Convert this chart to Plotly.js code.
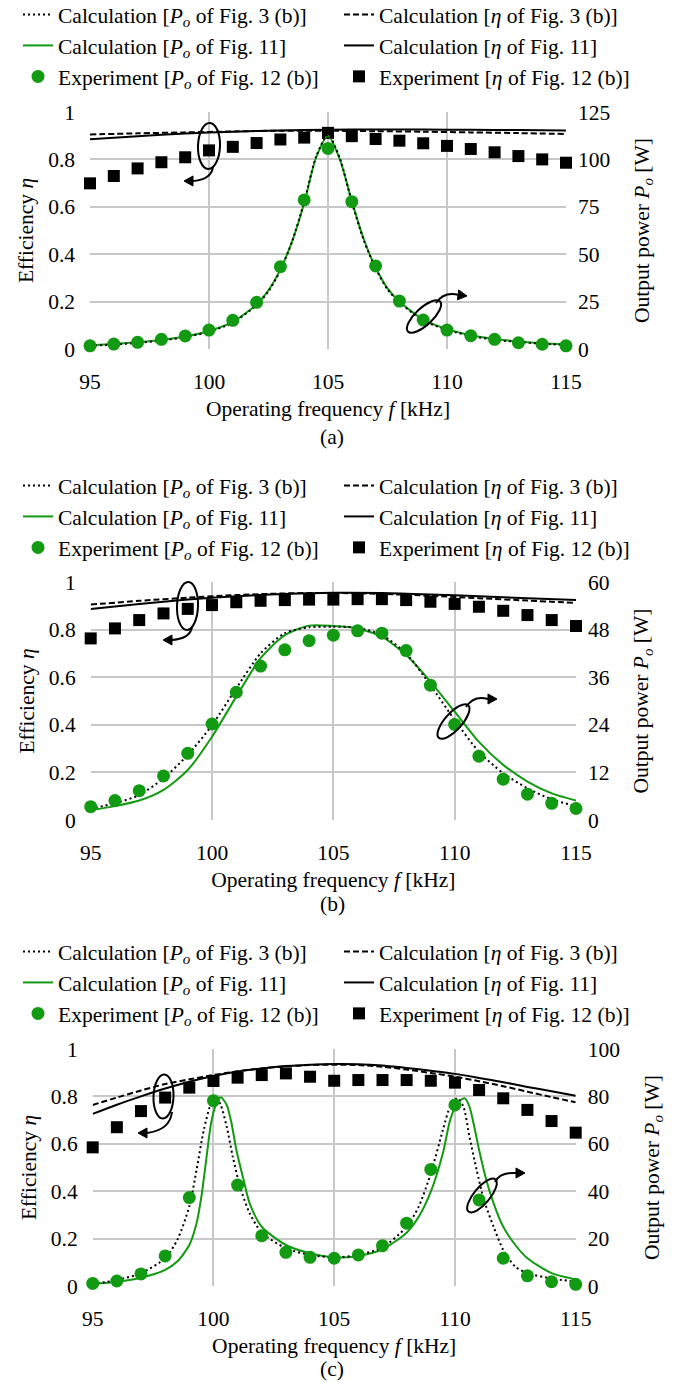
<!DOCTYPE html>
<html><head><meta charset="utf-8">
<script src="https://cdn.plot.ly/plotly-3.0.1.min.js"></script>
<style>html,body{margin:0;padding:0;background:#fff;}#chart{width:679px;height:1382px;}</style>
</head><body><div id="chart"></div>
<script>
// ---------------- data ----------------
const FREQ_EXP = [95,96,97,98,99,100,101,102,103,104,105,106,107,108,109,110,111,112,113,114,115];
const FREQ_ETA_AB = [95,97,99,101,103,105,107,109,111,113,115];

// panel (a)
const A_PO_EXP  = [1.7,2.6,3.5,5.1,6.9,10.0,15.1,24.6,43.4,78.6,105.8,77.7,43.8,25.3,15.3,10.0,7.0,5.1,3.3,2.5,1.7];
const A_ETA_EXP = [0.699,0.730,0.762,0.788,0.809,0.838,0.853,0.869,0.884,0.892,0.912,0.898,0.886,0.879,0.868,0.857,0.844,0.830,0.814,0.800,0.786];
const A_FREQ_PO = [95,96,97,98,99,100,101,102,102.5,103,103.5,104,104.5,105,105.5,106,106.5,107,107.5,108,109,110,111,112,113,114,115];
const A_PO_FIG11 = [2.0,2.7,3.5,4.8,6.6,9.5,14.3,23.5,31,42,57,77,101,112.5,100,78,58,43,32,25,15.5,10.5,7.3,5.3,4.0,3.0,2.4];
const A_PO_FIG3  = [1.7,2.4,3.2,4.5,6.3,9.1,13.9,23.2,30.5,41.5,57,77.5,101.5,113,100.5,77.5,57.5,42.5,31.5,24.6,15.1,10.1,6.9,4.9,3.7,2.8,2.1];
const A_ETA_FIG11 = [0.885,0.898,0.909,0.917,0.922,0.925,0.926,0.926,0.925,0.924,0.922];
const A_ETA_FIG3  = [0.905,0.910,0.914,0.918,0.921,0.921,0.919,0.917,0.914,0.911,0.907];

// panel (b)
const B_PO_EXP  = [3.35,4.9,7.4,11.1,16.8,24.2,32.2,38.8,42.9,45.2,46.6,47.7,47.1,42.7,34.0,24.1,16.1,10.3,6.5,4.2,2.9];
const B_ETA_EXP = [0.763,0.805,0.840,0.868,0.887,0.903,0.915,0.921,0.924,0.926,0.926,0.928,0.928,0.924,0.917,0.908,0.896,0.879,0.861,0.840,0.815];
const B_FREQ_PO = [95,96,97,98,99,100,101,102,103,104,105,106,107,108,109,110,111,112,113,114,115];
const B_PO_FIG11 = [2.5,3.5,4.9,7.6,12.6,21.0,31.1,40.8,46.6,49.0,48.9,48.3,46.2,41.6,34.9,27.3,19.7,13.9,9.7,6.7,4.9];
const B_PO_FIG3  = [2.9,4.2,6.3,10.5,16.4,23.9,33.2,42.0,47.1,48.6,48.7,48.5,46.6,42.0,34.0,25.2,17.2,11.8,8.0,5.2,3.5];
const B_ETA_FIG11 = [0.887,0.908,0.926,0.940,0.950,0.955,0.954,0.948,0.940,0.932,0.924];
const B_ETA_FIG3  = [0.905,0.921,0.934,0.945,0.952,0.954,0.950,0.942,0.932,0.922,0.912];

// panel (c)
const C_PO_EXP  = [1.1,2.1,5.1,12.7,37.3,78.2,42.6,21.2,14.2,12.1,11.7,13.1,17.0,26.5,49.2,76.4,36.3,11.7,4.3,1.8,0.7];
const C_ETA_EXP = [0.585,0.670,0.738,0.795,0.837,0.865,0.879,0.890,0.897,0.883,0.866,0.869,0.869,0.869,0.866,0.858,0.827,0.792,0.743,0.696,0.647];
const C_FREQ_PO11 = [95,96,97,98,98.5,99,99.3,99.5,99.7,99.9,100.1,100.3,100.55,100.75,100.95,101.25,101.5,102,103,104,105,106,107,108,108.5,109,109.5,109.8,110.1,110.4,110.6,110.8,111,111.3,111.6,112,112.5,113,114,115];
const C_PO_FIG11   = [0.8,1.8,3.5,6.8,10.3,17.3,26.5,37.7,53.2,68.6,76.4,79.6,76.4,68.6,57.4,44.7,34.9,25.0,17.3,13.8,12.1,12.7,15.5,22.5,29.2,39.8,56.0,70.0,77.3,79.2,75.7,67.2,57.4,44.7,34.9,25.0,17.3,11.7,5.4,2.8];
const C_FREQ_PO3 = [95,96,97,98,98.5,99,99.3,99.6,99.9,100.1,100.3,100.55,100.8,101.1,101.5,102,103,104,105,106,107,108,108.5,109,109.5,109.8,110.1,110.35,110.6,110.9,111.2,111.6,112,112.5,113,114,115];
const C_PO_FIG3    = [0.8,2.5,5.4,11.7,19.4,33.5,49.0,65.8,77.1,79.6,76.4,67.2,54.6,41.9,30.7,22.5,15.9,13.1,12.1,13.1,16.3,25.0,33.5,47.5,65.8,75.7,79.2,75.7,63.0,48.9,36.3,25.0,15.2,8.1,5.4,3.2,1.8];
const C_FREQ_ETA = [95,96,97,98,99,100,101,102,103,104,105,106,107,108,109,110,111,112,113,114,115];
const C_ETA_FIG11 = [0.726,0.765,0.800,0.833,0.862,0.886,0.905,0.918,0.928,0.934,0.937,0.936,0.930,0.920,0.908,0.895,0.878,0.860,0.840,0.822,0.803];
const C_ETA_FIG3  = [0.764,0.795,0.825,0.852,0.872,0.890,0.906,0.918,0.927,0.932,0.934,0.932,0.925,0.913,0.899,0.883,0.864,0.843,0.820,0.797,0.775];

// tick labels
const X_TICKS = [95,100,105,110,115];
const ETA_TICKS = [0,0.2,0.4,0.6,0.8,1];
const ETA_TICKTEXT = ['0','0.2','0.4','0.6','0.8','1'];
const PO_TICKS_A = [0,25,50,75,100,125];
const PO_TICKS_B = [0,12,24,36,48,60];
const PO_TICKS_C = [0,20,40,60,80,100];

// legend / axis texts
const NAME_PO_FIG3  = 'Calculation [<i>P</i><sub><i>o</i></sub> of Fig. 3 (b)]';
const NAME_ETA_FIG3 = 'Calculation [<i>η</i> of Fig. 3 (b)]';
const NAME_PO_FIG11 = 'Calculation [<i>P</i><sub><i>o</i></sub> of Fig. 11]';
const NAME_ETA_FIG11= 'Calculation [<i>η</i> of Fig. 11]';
const NAME_PO_EXP   = 'Experiment [<i>P</i><sub><i>o</i></sub> of Fig. 12 (b)]';
const NAME_ETA_EXP  = 'Experiment [<i>η</i> of Fig. 12 (b)]';
const X_TITLE = 'Operating frequency <i>f</i> [kHz]';
const YL_TITLE = 'Efficiency <i>η</i>';
const YR_TITLE = 'Output power <i>P</i><sub><i>o</i></sub> [W]';
const CAPTIONS = ['(a)','(b)','(c)'];

// ---------------- style / layout ----------------
const W = 679, H = 1382;
const FONT = 'Liberation Serif';
const FS = 21.5;
const GREEN = '#139a13';
const GRID = '#c8c8c8';
const px2x = v => v / W;
const py2y = v => 1 - v / H;

const PANELS = [
  {fEta: FREQ_ETA_AB, eta11: A_ETA_FIG11, eta3: A_ETA_FIG3, etaExp: A_ETA_EXP,
   fPo11: A_FREQ_PO, po11: A_PO_FIG11, fPo3: A_FREQ_PO, po3: A_PO_FIG3, poExp: A_PO_EXP,
   poTicks: PO_TICKS_A, box: {x0: 90, x1: 566, y0: 112, y1: 349}, legendTop: -6, captionY: 437},
  {fEta: FREQ_ETA_AB, eta11: B_ETA_FIG11, eta3: B_ETA_FIG3, etaExp: B_ETA_EXP,
   fPo11: B_FREQ_PO, po11: B_PO_FIG11, fPo3: B_FREQ_PO, po3: B_PO_FIG3, poExp: B_PO_EXP,
   poTicks: PO_TICKS_B, box: {x0: 90.7, x1: 576, y0: 582, y1: 820}, legendTop: 465, captionY: 904},
  {fEta: C_FREQ_ETA, eta11: C_ETA_FIG11, eta3: C_ETA_FIG3, etaExp: C_ETA_EXP,
   fPo11: C_FREQ_PO11, po11: C_PO_FIG11, fPo3: C_FREQ_PO3, po3: C_PO_FIG3, poExp: C_PO_EXP,
   poTicks: PO_TICKS_C, box: {x0: 92.7, x1: 575.7, y0: 1049, y1: 1286}, legendTop: 931, captionY: 1369}
];

// decorative ellipses + arrows (pixel geometry)
const DECOR = [
  {c:[209,146], a:23, b:11, ang:92, arrow:{s:[213,166], q:[212,180], e:[192,181], tip:[184,181]}},
  {c:[424,316.5], a:22, b:8.5, ang:-43, arrow:{s:[436,303], q:[444,291], e:[459,295], tip:[467,296]}},
  {c:[187.5,606], a:24, b:10.5, ang:92, arrow:{s:[192,627], q:[190,639], e:[171,640], tip:[163,640]}},
  {c:[453.5,721.5], a:22, b:8.5, ang:-48, arrow:{s:[466,707], q:[474,695], e:[488,699], tip:[497,699]}},
  {c:[163.5,1096.5], a:22, b:10, ang:92, arrow:{s:[172,1112], q:[170,1130], e:[147,1133], tip:[138,1133]}},
  {c:[482,1195.5], a:21, b:8, ang:-50, arrow:{s:[495,1182], q:[500,1172], e:[516,1173], tip:[525,1173]}}
];

const traces = [];
const layout = {
  width: W, height: H, margin: {l:0, r:0, t:0, b:0, autoexpand: false}, autosize: false,
  paper_bgcolor: '#fff', plot_bgcolor: 'rgba(0,0,0,0)',
  font: {family: FONT, size: FS, color: '#000'},
  showlegend: true, shapes: [], annotations: []
};

PANELS.forEach((p, i) => {
  const xa = i === 0 ? 'x' : 'x' + (i + 1);
  const yl = i === 0 ? 'y' : 'y' + (2 * i + 1);
  const yr = 'y' + (2 * i + 2);
  const lg = i === 0 ? 'legend' : 'legend' + (i + 1);
  const base = {xaxis: xa, legend: lg, hoverinfo: 'skip'};
  traces.push(Object.assign({}, base, {x: p.fEta, y: p.eta11, yaxis: yl, mode: 'lines', name: NAME_ETA_FIG11, legendrank: 4,
    line: {color: '#000', width: 2, shape: 'spline', smoothing: 0.8}}));
  traces.push(Object.assign({}, base, {x: p.fEta, y: p.eta3, yaxis: yl, mode: 'lines', name: NAME_ETA_FIG3, legendrank: 2,
    line: {color: '#000', width: 2, dash: '6px,3px', shape: 'spline', smoothing: 0.8}}));
  traces.push(Object.assign({}, base, {x: FREQ_EXP, y: p.etaExp, yaxis: yl, mode: 'markers', name: NAME_ETA_EXP, legendrank: 6,
    cliponaxis: false, marker: {symbol: 'square', size: 12, color: '#000'}}));
  traces.push(Object.assign({}, base, {x: p.fPo11, y: p.po11, yaxis: yr, mode: 'lines', name: NAME_PO_FIG11, legendrank: 3,
    line: {color: GREEN, width: 2, shape: 'spline', smoothing: 0.7}}));
  traces.push(Object.assign({}, base, {x: p.fPo3, y: p.po3, yaxis: yr, mode: 'lines', name: NAME_PO_FIG3, legendrank: 1,
    line: {color: '#000', width: 2, dash: '2px,3px', shape: 'spline', smoothing: 0.7}}));
  traces.push(Object.assign({}, base, {x: FREQ_EXP, y: p.poExp, yaxis: yr, mode: 'markers', name: NAME_PO_EXP, legendrank: 5,
    cliponaxis: false, marker: {symbol: 'circle', size: 13, color: GREEN}}));

  const b = p.box;
  const xDom = [px2x(b.x0), px2x(b.x1)];
  const yDom = [py2y(b.y1), py2y(b.y0)];
  const tickFont = {family: FONT, size: FS, color: '#000'};
  layout['xaxis' + (i === 0 ? '' : i + 1)] = {
    domain: xDom, anchor: yl, range: [95, 115], tickvals: X_TICKS, ticks: '', ticklabelstandoff: 17,
    showgrid: true, gridcolor: GRID, gridwidth: 2, zeroline: false, showline: false, tickfont: tickFont,
    title: {text: X_TITLE, font: tickFont, standoff: 8}, fixedrange: true
  };
  layout['yaxis' + (i === 0 ? '' : 2 * i + 1)] = {
    domain: yDom, anchor: xa, range: [0, 1], tickvals: ETA_TICKS, ticktext: ETA_TICKTEXT, ticks: '',
    ticklabelstandoff: 14, showgrid: true, gridcolor: GRID, gridwidth: 2, zeroline: false, showline: false,
    tickfont: tickFont, title: {text: YL_TITLE, font: tickFont, standoff: 8}, fixedrange: true
  };
  layout['yaxis' + (2 * i + 2)] = {
    domain: yDom, anchor: xa, overlaying: yl, side: 'right', range: [0, p.poTicks[p.poTicks.length - 1]],
    tickvals: p.poTicks, ticks: '', ticklabelstandoff: 11, showgrid: false, zeroline: false, showline: false,
    tickfont: tickFont, title: {text: YR_TITLE, font: tickFont, standoff: 24}, fixedrange: true
  };
  layout[lg] = {
    x: px2x(18), xanchor: 'left', y: py2y(p.legendTop), yanchor: 'top',
    orientation: 'h', entrywidth: 276, entrywidthmode: 'pixels', traceorder: 'normal',
    bgcolor: 'rgba(0,0,0,0)', borderwidth: 0, font: {family: FONT, size: FS, color: '#000'}
  };
  layout.annotations.push({xref: 'paper', yref: 'paper', x: px2x(332), y: py2y(p.captionY),
    xanchor: 'center', yanchor: 'middle', text: CAPTIONS[i], showarrow: false,
    font: {family: FONT, size: FS, color: '#000'}});
});

// decoration shapes
function pt(x, y) { return px2x(x).toFixed(5) + ',' + py2y(y).toFixed(5); }
function ellipsePath(d) {
  const k = 0.5523, t = d.ang * Math.PI / 180;
  const u = [Math.cos(t), Math.sin(t)], v = [-Math.sin(t), Math.cos(t)];
  const P = (ca, cb) => [d.c[0] + ca * u[0] + cb * v[0], d.c[1] + ca * u[1] + cb * v[1]];
  const seg = [[1,0],[0,1],[-1,0],[0,-1],[1,0]];
  let s = 'M' + pt(...P(d.a, 0));
  for (let j = 0; j < 4; j++) {
    const [a0, b0] = seg[j], [a1, b1] = seg[j + 1];
    const c1 = P(d.a * (a0 + k * (-b0)) , d.b * (b0 + k * a0));
    const c2 = P(d.a * (a1 + k * b1), d.b * (b1 - k * a1));
    const e = P(d.a * a1, d.b * b1);
    s += ' C' + pt(...c1) + ' ' + pt(...c2) + ' ' + pt(...e);
  }
  return s;
}
DECOR.forEach(d => {
  layout.shapes.push({type: 'path', xref: 'paper', yref: 'paper', path: ellipsePath(d), line: {color: '#000', width: 2}});
  const ar = d.arrow;
  layout.shapes.push({type: 'path', xref: 'paper', yref: 'paper',
    path: 'M' + pt(...ar.s) + ' Q' + pt(...ar.q) + ' ' + pt(...ar.e), line: {color: '#000', width: 2}});
  const dx = ar.tip[0] - ar.e[0], dy = ar.tip[1] - ar.e[1];
  const len = Math.hypot(dx, dy) || 1, ux = dx / len, uy = dy / len;
  const bx = ar.tip[0] - 9 * ux, by = ar.tip[1] - 9 * uy;
  layout.shapes.push({type: 'path', xref: 'paper', yref: 'paper',
    path: 'M' + pt(...ar.tip) + ' L' + pt(bx - 5 * uy, by + 5 * ux) + ' L' + pt(bx + 5 * uy, by - 5 * ux) + ' Z',
    fillcolor: '#000', line: {color: '#000', width: 1}});
});

Plotly.newPlot('chart', traces, layout, {staticPlot: true, displayModeBar: false});
</script>
</body></html>
